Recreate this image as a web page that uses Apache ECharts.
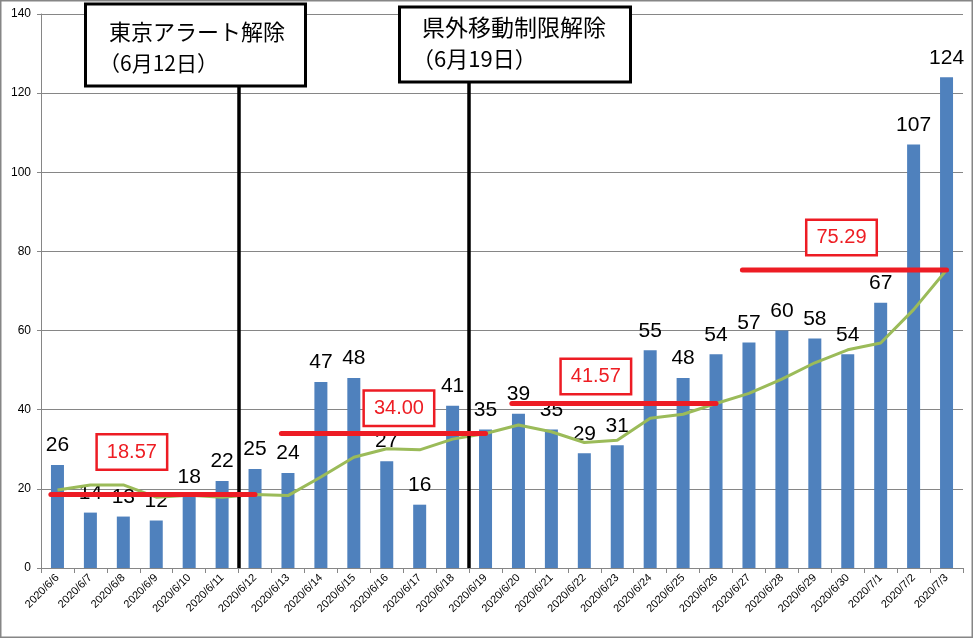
<!DOCTYPE html>
<html>
<head>
<meta charset="utf-8">
<script src="https://cdn.jsdelivr.net/npm/echarts@6/dist/echarts.min.js"></script>
<style>
html, body { margin: 0; padding: 0; background: #fff; }
#chart { width: 978px; height: 639px; }
</style>
</head>
<body>
<div id="chart"></div>
<script>
// 日付
var dateArr = ['2020/6/6','2020/6/7','2020/6/8','2020/6/9','2020/6/10','2020/6/11','2020/6/12',
	'2020/6/13','2020/6/14','2020/6/15','2020/6/16','2020/6/17','2020/6/18','2020/6/19',
	'2020/6/20','2020/6/21','2020/6/22','2020/6/23','2020/6/24','2020/6/25','2020/6/26',
	'2020/6/27','2020/6/28','2020/6/29','2020/6/30','2020/7/1','2020/7/2','2020/7/3'];
// 新規陽性者数
var countArr = [26,14,13,12,18,22,25,24,47,48,27,16,41,35,39,35,29,31,55,48,54,57,60,58,54,67,107,124];
// 7日間移動平均
var avgArr = [19.7,21.0,21.0,17.9,18.4,17.9,18.57,18.29,23.0,28.0,30.14,29.86,32.57,34.0,
	36.14,34.43,31.71,32.29,37.86,38.86,41.57,44.14,47.71,51.86,55.14,56.86,65.29,75.29];
// 週平均（開始日index）
var weekStart = [0, 7, 14, 21];
var weekAvg = [18.57, 34.00, 41.57, 75.29];
// 週平均ラベルの置き場所（値軸座標）
var weekLabelPos = [[2.76, 29.3], [10.87, 40.4], [16.85, 48.4], [24.31, 83.5]];
// 解除日（区切り位置 = その日の左端）
var eventIdx = [6, 13];
var eventText = [['東京アラート解除', '（6月12日）'], ['県外移動制限解除', '（6月19日）']];
var yTicks = { min: 0, max: 140, interval: 20 };

var chart = echarts.init(document.getElementById('chart'));

var series = [{
	name: 'count',
	type: 'bar',
	xAxisIndex: 0,
	barWidth: 13,
	z: 2,
	itemStyle: { color: '#4F81BD' },
	label: {
		show: true,
		position: 'top',
		distance: 9,
		color: '#000',
		fontSize: 21,
		fontFamily: 'Liberation Sans'
	},
	data: countArr
}, {
	name: 'avg7',
	type: 'line',
	xAxisIndex: 0,
	z: 3,
	symbol: 'none',
	lineStyle: { color: '#9BBB59', width: 3 },
	data: avgArr
}];

// 週平均の赤線
for (var w = 0; w < weekAvg.length; w++) {
	series.push({
		name: 'week' + w,
		type: 'line',
		xAxisIndex: 1,
		z: 5,
		symbol: 'none',
		lineStyle: { color: '#ED1C24', width: 5, cap: 'round' },
		data: [[weekStart[w] + 0.3, weekAvg[w]], [weekStart[w] + 6.5, weekAvg[w]]]
	});
}
// 解除日の縦線
series[2].markLine = {
	silent: true,
	symbol: 'none',
	label: { show: false },
	lineStyle: { color: '#000', width: 3.5, type: 'solid' },
	data: eventIdx.map(function (i) { return { xAxis: i }; })
};
// 週平均の数値ラベル
series.push({
	name: 'weekLabel',
	type: 'scatter',
	xAxisIndex: 1,
	z: 6,
	symbolSize: 0,
	itemStyle: { opacity: 1 },
	label: {
		show: true,
		position: 'inside',
		formatter: function (p) { return weekAvg[p.dataIndex].toFixed(2); },
		color: '#EE1D23',
		fontSize: 20,
		fontFamily: 'Liberation Sans',
		backgroundColor: '#fff',
		borderColor: '#ED1C24',
		borderWidth: 2.5,
		padding: [7, 9, 6, 9]
	},
	data: weekLabelPos
});

// 注記ボックス
var boxes = [
	{ x: 85.5, y: 4, w: 220, h: 82, tx: 109, ty1: 32, ty2: 63, fs: 22 },
	{ x: 399.5, y: 7, w: 231, h: 75, tx: 422, ty1: 27, ty2: 59, fs: 23 }
];
var graphic = [{
	type: 'rect', z: 100, silent: true,
	shape: { x: 0.75, y: 0.75, width: 971.5, height: 636.5 },
	style: { fill: null, stroke: '#868686', lineWidth: 1.5 }
}];
boxes.forEach(function (b, i) {
	graphic.push({
		type: 'rect', z: 100, silent: true,
		shape: { x: b.x, y: b.y, width: b.w, height: b.h },
		style: { fill: '#fff', stroke: '#000', lineWidth: 3 }
	});
	graphic.push({
		type: 'text', z: 101, silent: true, x: b.tx, y: b.ty1,
		style: { text: eventText[i][0], fill: '#000', font: b.fs + 'px "Noto Sans CJK JP"', verticalAlign: 'middle' }
	});
	graphic.push({
		type: 'text', z: 101, silent: true, x: b.tx - 10, y: b.ty2,
		style: { text: eventText[i][1], fill: '#000', font: (b.fs - 1) + 'px "Noto Sans CJK JP"', verticalAlign: 'middle' }
	});
});

var option = {
	animation: false,
	grid: { left: 41, right: 15, top: 14, bottom: 71 },
	xAxis: [{
		type: 'category',
		data: dateArr,
		axisLine: { lineStyle: { color: '#868686', width: 1 } },
		axisTick: { show: true, length: 5, lineStyle: { color: '#868686' } },
		axisLabel: {
			interval: 0,
			rotate: 45,
			margin: 8,
			fontSize: 11,
			color: '#000',
			fontFamily: 'Liberation Sans'
		}
	}, {
		type: 'value',
		min: 0,
		max: dateArr.length,
		show: false
	}],
	yAxis: {
		type: 'value',
		min: yTicks.min,
		max: yTicks.max,
		interval: yTicks.interval,
		axisLine: { show: true, lineStyle: { color: '#868686' } },
		axisTick: { show: true, length: 4, lineStyle: { color: '#868686' } },
		axisLabel: { margin: 10, fontSize: 12, color: '#000', fontFamily: 'Liberation Sans' },
		splitLine: { lineStyle: { color: '#868686', width: 1 } }
	},
	graphic: graphic,
	series: series
};
chart.setOption(option);
</script>
</body>
</html>
